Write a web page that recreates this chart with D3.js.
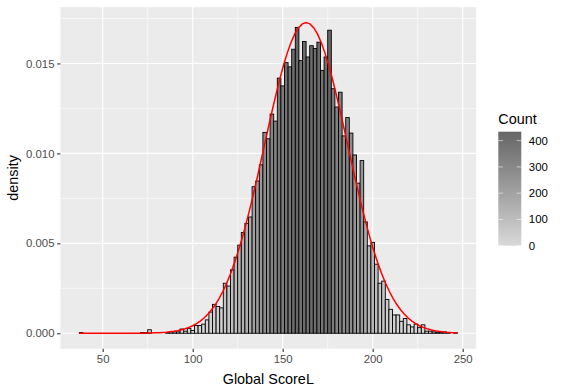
<!DOCTYPE html>
<html>
<head>
<meta charset="utf-8">
<script src="https://cdn.jsdelivr.net/npm/d3@7"></script>
<style>
body { margin: 0; background: #ffffff; }
text { font-family: "Liberation Sans", Arial, Helvetica, sans-serif; }
</style>
</head>
<body>
<div id="chart-area"></div>
<script>
// histogram of Global ScoreL, bins of width 2 starting at 37
var binStart = 37
var binWidth = 2
var counts = [1,
  0,0,0,0,0,0,0,0,0,0,0,0,0,0,0,0,
  1,1,5,
  0,0,0,0,1,2,2,2,
  6,3,7,4,
  11,11,13,19,30,41,38,36,71,67,90,
  108,125,143,156,165,208,216,239,
  285,276,311,301,362,351,384,378,403,434,
  387,414,392,408,404,413,373,392,430,347,
  321,342,280,306,284,253,213,245,158,124,
  129,98,71,74,48,34,26,26,17,21,
  12,9,13,8,12,3,3,2,1,1,2,1,0,1]
var nObs = 12760

// red normal curve (stat_function dnorm)
var curveMean = 163
var curveSd = 23.1

var xTicks = [50, 100, 150, 200, 250]
var xMinor = [75, 125, 175, 225]
var yTicks = [0, 0.005, 0.010, 0.015]
var yMinor = [0.0025, 0.0075, 0.0125, 0.0175]
var legendTicks = [0, 100, 200, 300, 400]

var width = 563
var height = 391
var panel = {left: 60.4, right: 476.2, top: 7.1, bottom: 348.8}
var tickFont = "11.4px"
var titleFont = "14.4px"

var svg = d3.select("#chart-area")
  .append("svg")
  .attr("width", width)
  .attr("height", height)

svg.append("rect").attr("width", width).attr("height", height).attr("fill", "#ffffff")

var bins = counts.map((c, i) => ({
  x0: binStart + i * binWidth,
  x1: binStart + (i + 1) * binWidth,
  count: c,
  density: c / (nObs * binWidth)
}))

var binEnd = binStart + counts.length * binWidth
var xRange = binEnd - binStart

var dnorm = (v) => Math.exp(-0.5 * Math.pow((v - curveMean) / curveSd, 2)) / (curveSd * Math.sqrt(2 * Math.PI))
var curvePts = d3.range(101).map((k) => {
  var v = binStart + k * xRange / 100
  return {x: v, y: dnorm(v)}
})

var yMax = Math.max(d3.max(bins, d => d.density), d3.max(curvePts, d => d.y))

var x = d3.scaleLinear()
  .domain([binStart - 0.05 * xRange, binEnd + 0.05 * xRange])
  .range([panel.left, panel.right])
var y = d3.scaleLinear()
  .domain([-0.05 * yMax, 1.05 * yMax])
  .range([panel.bottom, panel.top])

var countMax = d3.max(counts)
var fill = d3.scaleLinear()
  .domain([0, countMax])
  .range(["#d9d9d9", "#666666"])
  .interpolate(d3.interpolateLab)

// panel
svg.append("rect")
  .attr("x", panel.left).attr("y", panel.top)
  .attr("width", panel.right - panel.left)
  .attr("height", panel.bottom - panel.top)
  .attr("fill", "#ebebeb")

var grid = svg.append("g")
grid.selectAll(".xminor").data(xMinor).enter().append("line")
  .attr("x1", d => x(d)).attr("x2", d => x(d))
  .attr("y1", panel.top).attr("y2", panel.bottom)
  .attr("stroke", "#ffffff").attr("stroke-width", 0.55)
grid.selectAll(".yminor").data(yMinor).enter().append("line")
  .attr("x1", panel.left).attr("x2", panel.right)
  .attr("y1", d => y(d)).attr("y2", d => y(d))
  .attr("stroke", "#ffffff").attr("stroke-width", 0.55)
grid.selectAll(".xmajor").data(xTicks).enter().append("line")
  .attr("x1", d => x(d)).attr("x2", d => x(d))
  .attr("y1", panel.top).attr("y2", panel.bottom)
  .attr("stroke", "#ffffff").attr("stroke-width", 1.1)
grid.selectAll(".ymajor").data(yTicks).enter().append("line")
  .attr("x1", panel.left).attr("x2", panel.right)
  .attr("y1", d => y(d)).attr("y2", d => y(d))
  .attr("stroke", "#ffffff").attr("stroke-width", 1.1)

// bars
svg.append("g").selectAll("rect")
  .data(bins)
  .enter()
  .append("rect")
    .attr("x", d => x(d.x0))
    .attr("y", d => y(d.density))
    .attr("width", d => x(d.x1) - x(d.x0))
    .attr("height", d => y(0) - y(d.density))
    .attr("fill", d => fill(d.count))
    .attr("stroke", "#000000")
    .attr("stroke-width", 0.9)

// density curve
var line = d3.line().x(d => x(d.x)).y(d => y(d.y))
svg.append("path")
  .datum(curvePts)
  .attr("d", line)
  .attr("fill", "none")
  .attr("stroke", "#ff0000")
  .attr("stroke-width", 1.5)

// axes
var bottomAxis = d3.axisBottom(x).tickValues(xTicks).tickSize(3.3).tickPadding(2.8)
var gx = svg.append("g")
  .attr("transform", `translate(0, ${panel.bottom})`)
  .call(bottomAxis)
var leftAxis = d3.axisLeft(y).tickValues(yTicks).tickSize(3.3).tickPadding(2.6).tickFormat(d3.format(".3f"))
var gy = svg.append("g")
  .attr("transform", `translate(${panel.left}, 0)`)
  .call(leftAxis)

;[gx, gy].forEach((g) => {
  g.select(".domain").remove()
  g.selectAll(".tick line").attr("stroke", "#333333").attr("stroke-width", 1.1)
  g.selectAll(".tick text")
    .attr("fill", "#4d4d4d")
    .attr("font-size", tickFont)
    .attr("font-family", "'Liberation Sans', Arial, sans-serif")
})

svg.append("text")
  .attr("x", (panel.left + panel.right) / 2)
  .attr("y", 384)
  .attr("text-anchor", "middle")
  .attr("font-size", titleFont)
  .attr("fill", "#000000")
  .text("Global ScoreL")

svg.append("text")
  .attr("transform", `translate(18, ${(panel.top + panel.bottom) / 2}) rotate(-90)`)
  .attr("text-anchor", "middle")
  .attr("font-size", titleFont)
  .attr("fill", "#000000")
  .text("density")

// legend
var leg = {x: 498.3, top: 131.7, bottom: 245.7, w: 23}
var ly = d3.scaleLinear().domain([0, countMax]).range([leg.bottom, leg.top])

var defs = svg.append("defs")
var grad = defs.append("linearGradient")
  .attr("id", "countGrad")
  .attr("x1", "0").attr("y1", "1").attr("x2", "0").attr("y2", "0")
grad.selectAll("stop")
  .data(d3.range(0, 1.0001, 0.1))
  .enter()
  .append("stop")
    .attr("offset", d => d)
    .attr("stop-color", d => fill(d * countMax))

svg.append("text")
  .attr("x", leg.x)
  .attr("y", 124)
  .attr("font-size", titleFont)
  .attr("fill", "#000000")
  .text("Count")

svg.append("rect")
  .attr("x", leg.x).attr("y", leg.top)
  .attr("width", leg.w).attr("height", leg.bottom - leg.top)
  .attr("fill", "url(#countGrad)")

var lt = svg.append("g")
lt.selectAll(".tl").data(legendTicks).enter().append("line")
  .attr("x1", leg.x).attr("x2", leg.x + 4.6)
  .attr("y1", d => ly(d)).attr("y2", d => ly(d))
  .attr("stroke", "#ffffff").attr("stroke-opacity", 0.7).attr("stroke-width", 0.8)
lt.selectAll(".tr").data(legendTicks).enter().append("line")
  .attr("x1", leg.x + leg.w - 4.6).attr("x2", leg.x + leg.w)
  .attr("y1", d => ly(d)).attr("y2", d => ly(d))
  .attr("stroke", "#ffffff").attr("stroke-opacity", 0.7).attr("stroke-width", 0.8)
lt.selectAll("text").data(legendTicks).enter().append("text")
  .attr("x", leg.x + leg.w + 7.5)
  .attr("y", d => ly(d))
  .attr("dy", "0.35em")
  .attr("font-size", tickFont)
  .attr("fill", "#000000")
  .text(d => d)
</script>
</body>
</html>
